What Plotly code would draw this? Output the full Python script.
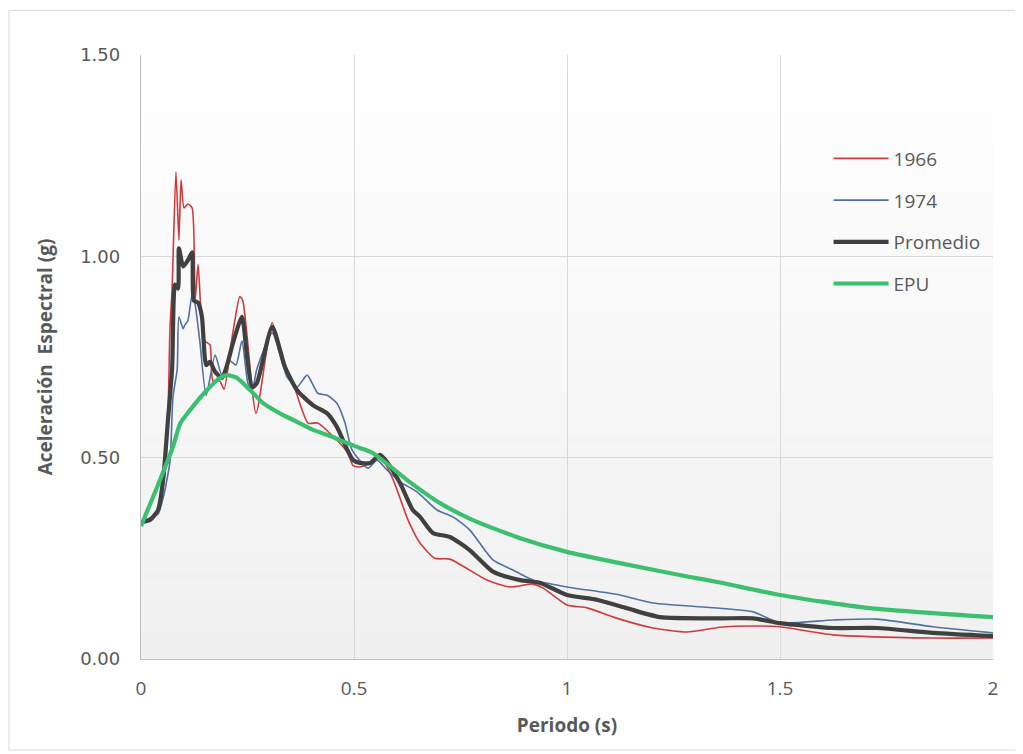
import plotly.graph_objects as go

# ---- data ----
t_1966 = [0.000, 0.021, 0.045, 0.056, 0.063, 0.068, 0.073, 0.082, 0.089, 0.094, 0.101, 0.110, 0.120,
          0.127, 0.134, 0.141, 0.150, 0.162, 0.169, 0.185, 0.195, 0.214, 0.232, 0.239, 0.270, 0.308,
          0.333, 0.357, 0.392, 0.415, 0.444, 0.484, 0.498, 0.514, 0.545, 0.561, 0.592, 0.627, 0.655,
          0.690, 0.725, 0.812, 0.866, 0.920, 0.944, 1.000, 1.047, 1.124, 1.202, 1.282, 1.359, 1.437,
          1.500, 1.624, 1.859, 2.000]
a_1966 = [0.34, 0.35, 0.38, 0.47, 0.59, 0.82, 0.92, 1.21, 1.04, 1.19, 1.12, 1.13, 1.12,
          0.89, 0.98, 0.86, 0.79, 0.78, 0.69, 0.69, 0.67, 0.80, 0.90, 0.89, 0.61, 0.835,
          0.742, 0.685, 0.586, 0.586, 0.56, 0.514, 0.48, 0.477, 0.49, 0.505, 0.445, 0.345, 0.288,
          0.25, 0.248, 0.196, 0.179, 0.186, 0.176, 0.134, 0.127, 0.099, 0.077, 0.067, 0.079, 0.082,
          0.080, 0.060, 0.052, 0.052]

t_1974 = [0.000, 0.021, 0.040, 0.052, 0.068, 0.075, 0.085, 0.089, 0.099, 0.103, 0.110, 0.120, 0.127,
          0.138, 0.153, 0.174, 0.190, 0.209, 0.223, 0.237, 0.251, 0.261, 0.272, 0.308, 0.343, 0.366,
          0.390, 0.415, 0.437, 0.460, 0.479, 0.495, 0.533, 0.554, 0.577, 0.608, 0.648, 0.695, 0.732,
          0.772, 0.826, 0.873, 0.920, 1.000, 1.124, 1.202, 1.359, 1.437, 1.500, 1.624, 1.728, 1.859,
          2.000]
a_1974 = [0.34, 0.35, 0.36, 0.40, 0.49, 0.65, 0.72, 0.85, 0.82, 0.83, 0.84, 0.905, 0.88,
          0.79, 0.655, 0.755, 0.705, 0.74, 0.73, 0.79, 0.685, 0.668, 0.72, 0.81, 0.70, 0.675,
          0.705, 0.66, 0.655, 0.635, 0.586, 0.52, 0.474, 0.494, 0.47, 0.44, 0.415, 0.37, 0.353,
          0.32, 0.246, 0.221, 0.196, 0.179, 0.159, 0.139, 0.126, 0.117, 0.090, 0.097, 0.099, 0.080,
          0.065]

t_prom = [0.000, 0.021, 0.040, 0.052, 0.063, 0.073, 0.080, 0.087, 0.089, 0.099, 0.110, 0.120, 0.124,
          0.134, 0.143, 0.153, 0.162, 0.174, 0.190, 0.202, 0.216, 0.237, 0.249, 0.261, 0.272, 0.308,
          0.338, 0.366, 0.404, 0.437, 0.460, 0.484, 0.498, 0.514, 0.538, 0.561, 0.577, 0.608, 0.638,
          0.655, 0.685, 0.725, 0.772, 0.826, 0.890, 0.937, 1.000, 1.070, 1.141, 1.218, 1.359, 1.437,
          1.500, 1.624, 1.728, 1.859, 2.000]
a_prom = [0.34, 0.345, 0.37, 0.445, 0.59, 0.72, 0.93, 0.92, 1.02, 0.975, 0.99, 1.01, 0.89,
          0.885, 0.85, 0.73, 0.738, 0.713, 0.698, 0.73, 0.785, 0.85, 0.75, 0.675, 0.685, 0.825,
          0.725, 0.668, 0.63, 0.61, 0.576, 0.52, 0.494, 0.487, 0.487, 0.507, 0.49, 0.437, 0.37,
          0.353, 0.313, 0.303, 0.27, 0.217, 0.196, 0.189, 0.159, 0.147, 0.126, 0.104, 0.101, 0.101,
          0.089, 0.077, 0.077, 0.065, 0.057]

t_epu = [0.000, 0.038, 0.075, 0.092, 0.115, 0.155, 0.185, 0.202, 0.225, 0.256, 0.286, 0.326, 0.366,
         0.404, 0.444, 0.484, 0.514, 0.545, 0.624, 0.702, 0.779, 0.890, 1.000, 1.124, 1.282, 1.359,
         1.500, 1.704, 2.000]
a_epu = [0.33, 0.427, 0.527, 0.585, 0.618, 0.668, 0.698, 0.705, 0.698, 0.668, 0.636, 0.61, 0.589,
         0.569, 0.554, 0.536, 0.524, 0.511, 0.445, 0.387, 0.345, 0.300, 0.266, 0.238, 0.205, 0.19,
         0.159, 0.127, 0.104]

x_ticks = [0, 0.5, 1, 1.5, 2]
x_tick_text = ["0", "0.5", "1", "1.5", "2"]
y_ticks = [0, 0.5, 1.0, 1.5]
y_tick_text = ["0.00", "0.50", "1.00", "1.50"]

# ---- figure ----
fig = go.Figure()

series = [
    ("1966", t_1966, a_1966, "#d13b3e", 1.6),
    ("1974", t_1974, a_1974, "#4f71a3", 1.6),
    ("Promedio", t_prom, a_prom, "#404040", 4.2),
    ("EPU", t_epu, a_epu, "#3cbf6f", 4.2),
]
for i, (name, t, a, col, w) in enumerate(series):
    fig.add_trace(go.Scatter(
        x=t, y=a, name=name, mode="lines",
        line=dict(color=col, width=w, shape="spline", smoothing=0.6),
        legendgroup=f"g{i}",
    ))

# gradient plot-area background
n = 40
for k in range(n):
    frac = k / n
    g = int(round(255 - (255 - 240) * (1 - frac)))
    fig.add_shape(type="rect", xref="x domain", yref="y domain",
                  x0=0, x1=1, y0=frac, y1=(k + 1) / n,
                  fillcolor=f"rgb({g},{g},{g})", line=dict(width=0), layer="below")

# outer chart border
fig.add_shape(type="rect", xref="paper", yref="paper",
              x0=-0.155, x1=1.0305, y0=-0.1507, y1=1.074,
              line=dict(color="#d9d9d9", width=1), fillcolor="rgba(0,0,0,0)", layer="below")

tick_font = dict(family="DejaVu Sans", size=18, color="#595959")
xtick_font = dict(family="Liberation Sans Narrow, Open Sans", size=19, color="#595959")
title_font = dict(family="Liberation Sans Narrow, Open Sans", size=19, color="#595959")

fig.update_layout(
    width=1023, height=754,
    margin=dict(l=133, r=38, t=47, b=103),
    paper_bgcolor="white", plot_bgcolor="rgba(0,0,0,0)",
    showlegend=True,
    legend=dict(x=0.807, y=0.86, xanchor="left", yanchor="top",
                font=dict(family="Liberation Sans Narrow, Open Sans", size=19, color="#595959"),
                bgcolor="rgba(0,0,0,0)", tracegroupgap=14, itemwidth=55),
    xaxis=dict(range=[0, 2], tickvals=x_ticks, ticktext=x_tick_text,
               showgrid=True, gridcolor="#d9d9d9", gridwidth=1.3,
               showline=True, linecolor="#bfbfbf", linewidth=1.3, mirror=False,
               zeroline=False, ticks="", tickfont=xtick_font, ticklabelstandoff=12,
               title=dict(text="<b>Periodo (s)</b>", font=title_font, standoff=18)),
    yaxis=dict(range=[0, 1.5], tickvals=y_ticks, ticktext=y_tick_text,
               showgrid=True, gridcolor="#d9d9d9", gridwidth=1.3,
               showline=True, linecolor="#bfbfbf", linewidth=1.3,
               zeroline=False, ticks="", tickfont=tick_font, ticklabelstandoff=16,
               title=dict(text="<b>Aceleración  Espectral (g)</b>", font=title_font, standoff=22)),
)

fig.write_html("out.html")
